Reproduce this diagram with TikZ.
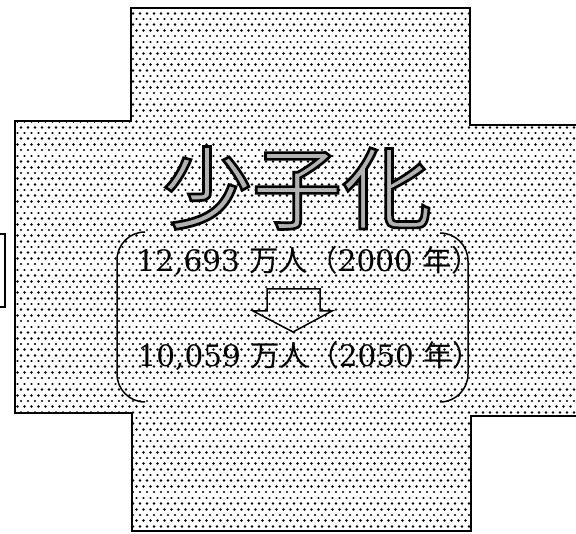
\documentclass[tikz,border=0pt]{standalone}
\usepackage{fontspec}
\setmainfont{DejaVu Serif}
\newfontfamily\jpfont{Noto Sans CJK JP}
\newfontfamily\jpoutline[FakeBold=3]{Noto Sans CJK JP}
\tikzset{
  crossline/.style={draw=black, line width=1.4pt, line join=miter},
  dotrow/.style={line width=2.6pt, line cap=round, dash pattern=on 0.01pt off 6.99pt},
  bracketline/.style={draw=black, line width=1.5pt},
  arrowshape/.style={draw=black, line width=1.5pt, line join=miter},
  linetext/.style={anchor=base, inner sep=0pt, font=\fontsize{29.5}{31}\selectfont},
  titletext/.style={anchor=center, inner sep=0pt, font=\jpoutline\fontsize{90}{92}\selectfont}
}
\def\crosspath{(131,8) -- (470,8) -- (470,125) -- (600,125) -- (600,416)
  -- (471,416) -- (471,531) -- (132,531) -- (132,413) -- (15,413)
  -- (15,121) -- (131,121) -- cycle}
\begin{document}
\begin{tikzpicture}[x=1pt, y=-1pt]
\useasboundingbox (0,0) rectangle (576,534);
% dotted fill of the cross-shaped panel
\begin{scope}
  \clip \crosspath;
  \foreach \i in {0,...,95}{
    \pgfmathsetmacro\yy{\i*5.7+2}
    \pgfmathsetmacro\ph{mod(\i,2)*3.5}
    \draw[dotrow, dash phase=\ph pt] (0,\yy) -- (600,\yy);
  }
\end{scope}
\draw[crossline] \crosspath;
% partial box at left edge
\draw[line width=1.2pt] (-10,234) rectangle (5,307);
% title: grey glyphs with black outline (fill and stroke colours set apart)
\node[titletext] (title) at (297,188)
  {\special{pdf:bcolor [0.7] [0]}少子化\special{pdf:ecolor}};
% rounded brackets
\draw[bracketline] (145,232) arc[start angle=-90, end angle=-180, radius=28] -- (117,374)
  arc[start angle=-180, end angle=-270, radius=28];
\draw[bracketline] (440,233) arc[start angle=-90, end angle=0, radius=28] -- (468,374)
  arc[start angle=0, end angle=90, radius=28];
% population lines
\node[linetext] (pop2000) at (309,272)
  {12,693 {\jpfont 万人（}2000 {\jpfont 年）}};
\node[linetext] (pop2050) at (310,367)
  {10,059 {\jpfont 万人（}2050 {\jpfont 年）}};
% hollow down arrow
\draw[arrowshape] (267,289) -- (320,289) -- (320,311) -- (332,311) -- (293,332)
  -- (253,311) -- (267,311) -- cycle;
\end{tikzpicture}
\end{document}
